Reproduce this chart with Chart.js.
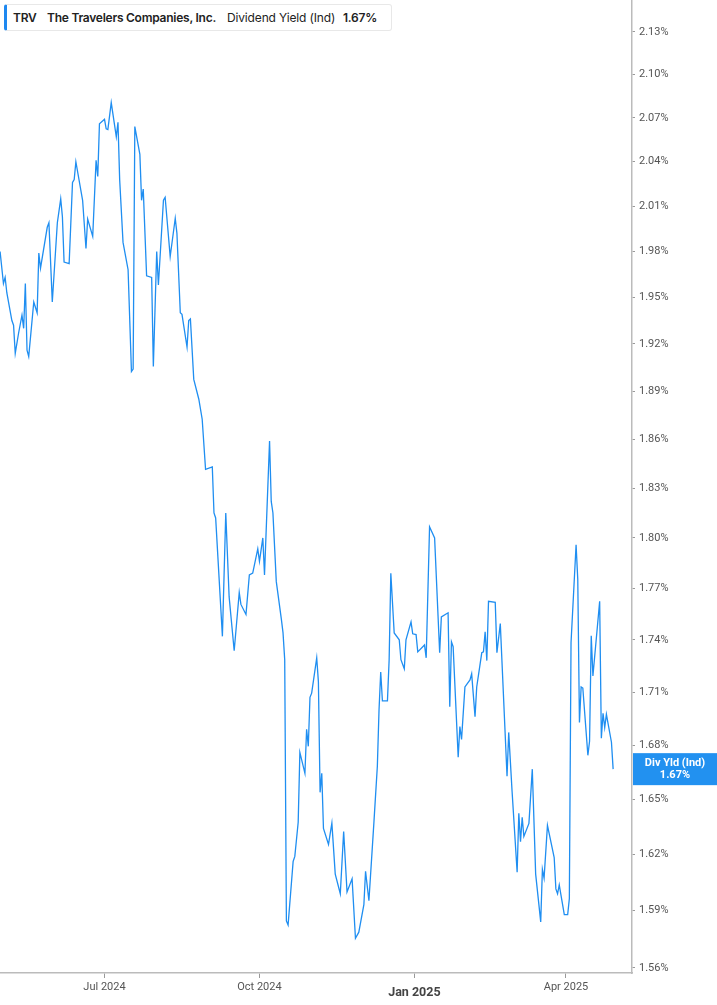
<!DOCTYPE html>
<html>
<head>
<meta charset="utf-8">
<script src="https://cdn.jsdelivr.net/npm/chart.js@4.4.1/dist/chart.umd.min.js"></script>
<style>
  html, body { margin: 0; padding: 0; background: #fff; }
  #wrap { position: relative; width: 717px; height: 1005px; }
  #legend {
    position: absolute; left: 4px; top: 4px; width: 384px; height: 25px;
    border: 1px solid #e8e8e8; border-left: 3px solid #1e88f0; border-radius: 3px;
    background: #fff; font-family: Inter, "Noto Sans", sans-serif; font-size: 12px; color: #222;
  }
  #legend span { position: absolute; top: 5px; white-space: nowrap; }
  .b { font-weight: 600; letter-spacing: -0.25px; }
</style>
</head>
<body>
<div id="wrap">
  <canvas id="chart" width="717" height="1005"></canvas>
  <div id="legend">
    <span class="b" style="left:6px">TRV</span>
    <span class="b" style="left:40px">The Travelers Companies, Inc.</span>
    <span style="left:220px; letter-spacing:-0.15px">Dividend Yield (Ind)</span>
    <span class="b" style="left:336px">1.67%</span>
  </div>
</div>
<script>
const dates = [
  "2024-04-30","2024-05-02","2024-05-03","2024-05-04","2024-05-07","2024-05-08","2024-05-09","2024-05-11",
  "2024-05-13","2024-05-14","2024-05-15","2024-05-16","2024-05-17","2024-05-20","2024-05-22","2024-05-23",
  "2024-05-24","2024-05-28","2024-05-29","2024-05-31","2024-06-03","2024-06-05","2024-06-06","2024-06-07",
  "2024-06-10","2024-06-12","2024-06-13","2024-06-14","2024-06-18","2024-06-20","2024-06-21","2024-06-24",
  "2024-06-26","2024-06-27","2024-06-28","2024-07-01","2024-07-02","2024-07-03","2024-07-05","2024-07-08",
  "2024-07-09","2024-07-10","2024-07-12","2024-07-15","2024-07-17","2024-07-18","2024-07-19","2024-07-22",
  "2024-07-23","2024-07-24","2024-07-26","2024-07-29","2024-07-30","2024-08-01","2024-08-02","2024-08-05",
  "2024-08-06","2024-08-09","2024-08-12","2024-08-13","2024-08-15","2024-08-16","2024-08-19","2024-08-20",
  "2024-08-21","2024-08-23","2024-08-26","2024-08-28","2024-08-30","2024-09-03","2024-09-04","2024-09-05",
  "2024-09-09","2024-09-11","2024-09-13","2024-09-16","2024-09-19","2024-09-20","2024-09-23","2024-09-25",
  "2024-09-27","2024-09-30","2024-10-01","2024-10-03","2024-10-04","2024-10-07","2024-10-08","2024-10-09",
  "2024-10-11","2024-10-14","2024-10-15","2024-10-16","2024-10-17","2024-10-18","2024-10-21","2024-10-22",
  "2024-10-24","2024-10-25","2024-10-28","2024-10-29","2024-10-30","2024-10-31","2024-11-01","2024-11-04",
  "2024-11-05","2024-11-06","2024-11-07","2024-11-08","2024-11-11","2024-11-13","2024-11-15","2024-11-18",
  "2024-11-20","2024-11-22","2024-11-25","2024-11-27","2024-11-29","2024-12-02","2024-12-03","2024-12-05",
  "2024-12-08","2024-12-10","2024-12-11","2024-12-12","2024-12-13","2024-12-16","2024-12-17","2024-12-18",
  "2024-12-20","2024-12-23","2024-12-24","2024-12-26","2024-12-27","2024-12-30","2024-12-31","2025-01-02",
  "2025-01-03","2025-01-07","2025-01-08","2025-01-10","2025-01-13","2025-01-16","2025-01-17","2025-01-21",
  "2025-01-22","2025-01-23","2025-01-24","2025-01-27","2025-01-28","2025-01-29","2025-01-31","2025-02-03",
  "2025-02-04","2025-02-06","2025-02-07","2025-02-10","2025-02-11","2025-02-12","2025-02-13","2025-02-14",
  "2025-02-18","2025-02-19","2025-02-21","2025-02-25","2025-02-26","2025-02-28","2025-03-03","2025-03-04",
  "2025-03-05","2025-03-06","2025-03-07","2025-03-10","2025-03-12","2025-03-14","2025-03-17","2025-03-18",
  "2025-03-19","2025-03-21","2025-03-25","2025-03-26","2025-03-27","2025-03-28","2025-03-31","2025-04-02",
  "2025-04-03","2025-04-04","2025-04-07","2025-04-08","2025-04-09","2025-04-10","2025-04-11","2025-04-14",
  "2025-04-15","2025-04-16","2025-04-17","2025-04-21","2025-04-22","2025-04-23","2025-04-24","2025-04-25",
  "2025-04-28","2025-04-29"
];

const yields = [
  1.980,1.959,1.963,1.953,1.935,1.932,1.914,1.927,
  1.9385,1.930,1.959,1.916,1.912,1.947,1.940,1.979,
  1.969,1.996,1.999,1.947,1.999,2.015,2.003,1.973,
  1.972,2.026,2.028,2.040,2.014,1.982,2.0015,1.990,
  2.041,2.030,2.066,2.069,2.0625,2.062,2.0805,2.057,
  2.067,2.028,1.986,1.968,1.9025,1.904,2.064,2.045,
  2.014,2.0216,1.964,1.963,1.9056,1.980,1.958,2.014,
  2.016,1.9767,2.002,1.992,1.940,1.939,1.918,1.935,
  1.936,1.8975,1.885,1.8725,1.8416,1.843,1.815,1.812,
  1.742,1.815,1.765,1.7337,1.7676,1.7606,1.7547,1.778,
  1.779,1.7935,1.786,1.800,1.778,1.859,1.822,1.815,
  1.774,1.752,1.744,1.7285,1.5846,1.5825,1.6163,1.619,
  1.6375,1.676,1.6644,1.689,1.6794,1.707,1.7094,1.7296,
  1.7158,1.6539,1.6644,1.6342,1.6255,1.637,1.6095,1.599,
  1.6325,1.600,1.607,1.5755,1.5787,1.5932,1.611,1.5953,
  1.638,1.6683,1.700,1.7215,1.705,1.705,1.7285,1.779,
  1.744,1.740,1.7285,1.7233,1.740,1.7504,1.7435,1.743,
  1.733,1.737,1.7296,1.8067,1.800,1.7325,1.7533,1.7557,
  1.7017,1.7388,1.736,1.6733,1.6905,1.6833,1.7129,1.7169,
  1.7204,1.6961,1.7129,1.7325,1.733,1.7447,1.728,1.7624,
  1.7618,1.7325,1.7494,1.6628,1.6872,1.6544,1.6105,1.6424,
  1.627,1.6402,1.6298,1.6369,1.6667,1.6095,1.5841,1.6121,
  1.6074,1.6358,1.6184,1.6016,1.599,1.6037,1.5879,1.5879,
  1.5964,1.7383,1.7959,1.7753,1.6928,1.7129,1.7123,1.6744,
  1.6822,1.7424,1.7192,1.7624,1.6839,1.698,1.690,1.6974,
  1.6817,1.6667
];

const tickDates = ["2024-07-01", "2024-10-01", "2025-01-01", "2025-04-01"];
const tickLabels = ["Jul 2024", "Oct 2024", "Jan 2025", "Apr 2025"];
const yTicks = [1.56, 1.59, 1.62, 1.65, 1.68, 1.71, 1.74, 1.77, 1.80, 1.83,
                1.86, 1.89, 1.92, 1.95, 1.98, 2.01, 2.04, 2.07, 2.10, 2.13];
const badgeTitle = "Div Yld (Ind)";
const badgeValue = "1.67%";

function dayNum(s) {
    return Date.UTC(+s.slice(0, 4), +s.slice(5, 7) - 1, +s.slice(8, 10)) / 86400000;
}

const points = dates.map((d, i) => ({ x: dayNum(d), y: yields[i] }));

// blue value tag on the right axis, at the last value
const badgePlugin = {
    id: "badge",
    afterDraw(chart) {
        const c = chart.ctx;
        const area = chart.chartArea;
        const y = chart.scales.y.getPixelForValue(yields[yields.length - 1]);
        const left = area.right + 1;
        const w = chart.width - left;
        c.save();
        c.fillStyle = "#2291f0";
        c.fillRect(left, y - 16, w, 32);
        c.fillStyle = "#fff";
        c.font = "bold 11px Roboto, sans-serif";
        c.textAlign = "center";
        c.textBaseline = "middle";
        c.fillText(badgeTitle, left + w / 2, y - 6);
        c.fillText(badgeValue, left + w / 2, y + 6);
        c.restore();
    }
};

const ctx = document.getElementById("chart").getContext("2d");
const chart = new Chart(ctx, {
    type: "line",
    data: {
        datasets: [{
            data: points,
            borderColor: "#1f8ef1",
            borderWidth: 1.3,
            pointRadius: 0,
            tension: 0,
            fill: false
        }]
    },
    options: {
        responsive: false,
        animation: false,
        layout: { padding: 0 },
        plugins: {
            legend: { display: false },
            tooltip: { enabled: false }
        },
        scales: {
            x: {
                type: "linear",
                min: dayNum("2024-04-30") - 0.05,
                max: dayNum("2025-05-10") + 0.2,
                afterBuildTicks: s => { s.ticks = tickDates.map(d => ({ value: dayNum(d) })); },
                afterFit: s => { s.height = 32; s.paddingLeft = 0; s.paddingRight = 0; },
                ticks: {
                    autoSkip: false,
                    maxRotation: 0,
                    padding: 3,
                    color: c => c.index === 2 ? "#444" : "#555",
                    font: c => c.index === 2
                        ? { family: "Roboto", size: 12.5, weight: "bold", lineHeight: 1.9 }
                        : { family: "Roboto", size: 11 },
                    callback: (v, i) => tickLabels[i]
                },
                grid: { drawOnChartArea: false, tickLength: 5, color: "#999" },
                border: { color: "#bbb", width: 1.5 }
            },
            y: {
                type: "logarithmic",
                position: "right",
                min: 1.5574,
                max: 2.1528,
                afterBuildTicks: s => { s.ticks = yTicks.map(v => ({ value: v })); },
                afterFit: s => { s.width = 85; s.paddingTop = 0; s.paddingBottom = 0; },
                ticks: {
                    autoSkip: false,
                    padding: 4,
                    color: "#555",
                    font: { family: "Roboto", size: 11 },
                    callback: v => v.toFixed(2) + "%"
                },
                grid: { drawOnChartArea: false, tickLength: 3, color: "#999" },
                border: { color: "#bbb", width: 1.5 }
            }
        }
    },
    plugins: [badgePlugin]
});
</script>
</body>
</html>
